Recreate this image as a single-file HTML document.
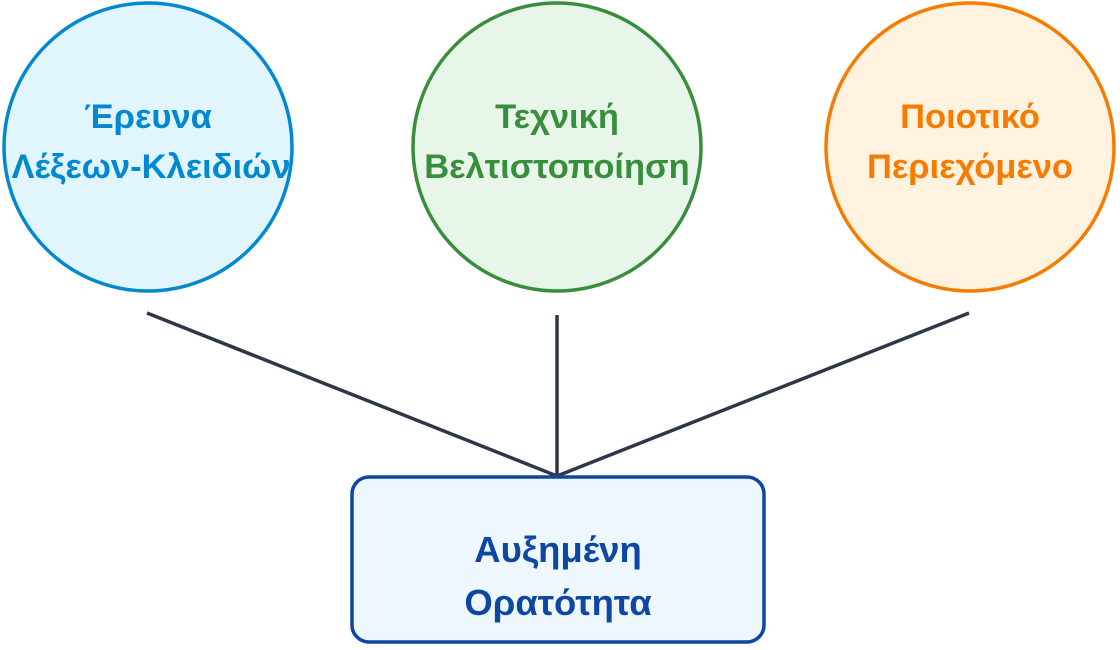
<!DOCTYPE html>
<html><head><meta charset="utf-8"><style>
html,body{margin:0;padding:0;background:#fff;width:1120px;height:650px;overflow:hidden}
</style></head><body>
<svg width="1120" height="650" viewBox="0 0 1120 650" xmlns="http://www.w3.org/2000/svg" font-family="Liberation Sans, sans-serif" font-weight="bold" text-anchor="middle">
<g stroke="#2d3748" stroke-width="3.5" fill="none">
<line x1="147" y1="313" x2="557" y2="476"/>
<line x1="557" y1="315" x2="557" y2="476"/>
<line x1="969" y1="313" x2="557" y2="476"/>
</g>
<circle cx="148" cy="147" r="144" fill="#e1f5fe" stroke="#0288d1" stroke-width="3.5"/>
<circle cx="557" cy="147" r="144" fill="#e8f5e9" stroke="#388e3c" stroke-width="3.5"/>
<circle cx="970" cy="147" r="144" fill="#fff3e0" stroke="#f57c00" stroke-width="3.5"/>
<rect x="352" y="477" width="412" height="165" rx="17" fill="#eff7fe" stroke="#0d47a1" stroke-width="3.5"/>
<g font-size="34.5">
<text x="148" y="128" fill="#0288d1">Έρευνα</text>
<text x="151" y="178" fill="#0288d1">Λέξεων-Κλειδιών</text>
<text x="557" y="128" fill="#388e3c">Τεχνική</text>
<text x="557" y="178" fill="#388e3c">Βελτιστοποίηση</text>
<text x="970" y="128" fill="#f57c00">Ποιοτικό</text>
<text x="970" y="178" fill="#f57c00">Περιεχόμενο</text>
</g>
<g font-size="36.5">
<text x="558" y="562" fill="#0d47a1">Αυξημένη</text>
<text x="558" y="615" fill="#0d47a1">Ορατότητα</text>
</g>
</svg>
</body></html>
